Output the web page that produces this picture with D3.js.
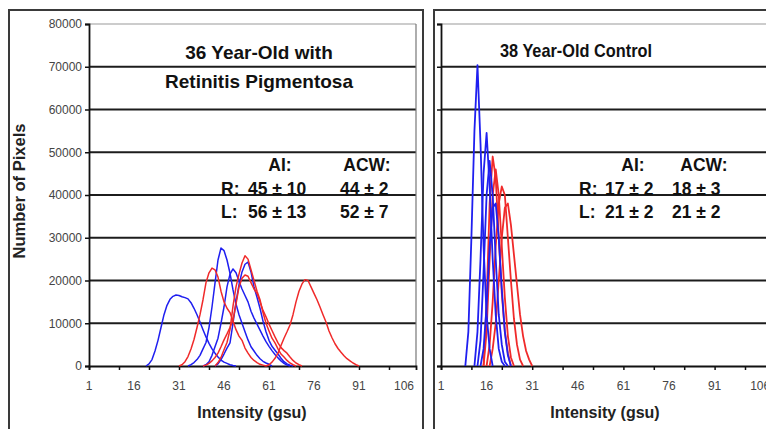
<!DOCTYPE html>
<html><head><meta charset="utf-8">
<script src="https://cdn.jsdelivr.net/npm/d3@7/dist/d3.min.js"></script>
<style>
body{margin:0;background:#fff}
svg{display:block}
text{font-family:Arial,"Liberation Sans",sans-serif}
</style>
</head><body>
<svg id="chart" width="766" height="429"></svg>
<script>
// ---------- data ----------
const yTickValues = [0,10000,20000,30000,40000,50000,60000,70000,80000];
const xTickLabels = [1,16,31,46,61,76,91,106];
const xTickMarks  = [1,11,21,31,41,51,61,71,81,91,101];

// Left panel: 36 Year-Old with Retinitis Pigmentosa (blue = R, red = L)
const rpBlueStart = [20,34,39,43];
const rpBlue1 = [0,500,1500,3500,6000,9000,12000,14200,15600,16300,16600,16500,16200,16000,15700,14800,13500,12000,10300,8500,6800,5300,4000,3000,2100,1400,900,600,300,100,0];
const rpBlue2 = [0,300,800,1500,2500,4000,5500,9000,13800,19400,24800,27600,27000,24800,21700,17800,14500,12000,10000,8000,6100,4500,3500,2500,1700,1100,700,400,0];
const rpBlue3 = [0,300,1000,2500,4500,6500,10000,13800,18500,21500,22700,21800,19800,18000,16500,15000,12800,11200,9800,8400,7000,5700,4600,3600,2700,1900,1200,600,200,0];
const rpBlue4 = [0,500,1500,2800,4200,5400,10000,15000,19000,22000,23800,24300,22000,18500,16100,13500,10500,8000,6000,4600,3700,2800,1800,1000,500,200,0];
const rpRedStart = [31,43,39,60];
const rpRed1 = [0,300,1000,2200,4000,6200,9000,12000,15500,19500,21800,22900,22500,20800,17500,15000,13500,12500,10500,8500,7000,6000,4200,3000,2000,1300,800,400,200,0];
const rpRed2 = [0,800,2000,3800,5500,8500,14000,18500,21500,24100,25800,25000,22500,20000,17500,15500,12500,10000,8200,6500,5400,4000,2800,2100,1300,700,300,0];
const rpRed3 = [0,200,600,1200,2000,3000,4500,6100,7500,9000,10800,14500,18500,20500,21300,21000,19500,18000,17000,15000,13000,11500,9800,8300,6800,5400,4300,3600,3000,2100,1300,700,300,0];
const rpRed4 = [0,300,900,1800,3000,4800,6500,8000,9600,12000,15000,17500,19200,20200,20000,18500,17000,15500,13800,12000,10300,8200,6600,5200,4100,3200,2400,1700,1200,700,300,0];

// Right panel: 38 Year-Old Control
const ctBlueStart = [9,12,13,14];
const ctBlue1 = [0,8000,30000,55000,70400,52000,28000,12000,4000,0];
const ctBlue2 = [0,8000,25000,45000,54500,42000,25000,12000,4000,1000,0];
const ctBlue3 = [0,6000,22000,40000,48000,40000,25000,12000,5000,1000,0];
const ctBlue4 = [0,4000,14000,28000,37000,38000,30000,18000,8000,2500,0];
const ctRedStart = [15,16,15,17];
const ctRed1 = [0,15000,38000,49000,44000,30000,17000,8000,3000,0];
const ctRed2 = [0,5000,15000,28000,38000,42000,40000,30000,20000,11000,5000,1500,0];
const ctRed3 = [0,8000,25000,40000,46000,40000,28000,16000,7000,2000,0];
const ctRed4 = [0,4000,10000,20000,30000,37000,38000,33000,26000,19000,12000,7000,3500,1500,0];

const statsHeader = ["AI:","ACW:"];
const rpStats = [["R:","45 ± 10","44 ± 2"],["L:","56 ± 13","52 ± 7"]];
const ctStats = [["R:","17 ± 2","18 ± 3"],["L:","21 ± 2","21 ± 2"]];

// ---------- drawing ----------
const svg = d3.select("#chart");
const BLUE = "#1f1ff0", RED = "#f02a2a";

function toPoints(start, vals){ return vals.map((v,i)=>({c:start+i, v})); }

function drawPanel(cfg){
  const g = svg.append("g");
  g.append("rect").attr("x",cfg.box[0]).attr("y",cfg.box[1]).attr("width",cfg.box[2]).attr("height",cfg.box[3])
    .attr("fill","none").attr("stroke","#3a3a3a").attr("stroke-width",2);

  const x = d3.scaleLinear().domain([1, cfg.xEnd]).range([cfg.x0, cfg.x1]);
  const y = d3.scaleLinear().domain([0, 80000]).range([366, 24]);

  g.append("g").selectAll("line").data(yTickValues.filter(d=>d>0)).join("line")
    .attr("x1",cfg.x0).attr("x2",cfg.x1).attr("y1",d=>y(d)).attr("y2",d=>y(d))
    .attr("stroke",d=>d===80000?"#9a9a9a":"#1c1c1c").attr("stroke-width",d=>d===80000?1.2:1.8);
  if (cfg.rightEdge) g.append("line").attr("x1",cfg.x1).attr("x2",cfg.x1).attr("y1",y(80000)).attr("y2",y(0))
    .attr("stroke","#777").attr("stroke-width",1.2);

  const yAxis = d3.axisLeft(y).tickValues(yTickValues).tickSize(4).tickFormat(cfg.yLabels ? d3.format("d") : "");
  const ya = g.append("g").attr("transform",`translate(${cfg.x0},0)`).call(yAxis);
  ya.select(".domain").attr("stroke","#111").attr("stroke-width",1.8);
  ya.selectAll(".tick line").attr("stroke","#111").attr("stroke-width",1.5);
  ya.selectAll(".tick text").attr("font-size",12).attr("fill","#444").attr("x",-7).attr("font-family","Arial, 'Liberation Sans', sans-serif");

  const xa = g.append("g").attr("transform","translate(0,366)")
    .call(d3.axisBottom(x).tickValues(xTickMarks).tickSize(4).tickFormat(""));
  xa.select(".domain").attr("stroke","#111").attr("stroke-width",1.8);
  xa.selectAll(".tick line").attr("stroke","#111").attr("stroke-width",1.5);
  g.append("g").selectAll("text").data(xTickLabels).join("text")
    .attr("x",d=>x(d)).attr("y",390).attr("text-anchor","middle")
    .attr("font-size",12).attr("fill","#444").text(d=>d);

  const line = d3.line().x(d=>x(d.c)).y(d=>y(d.v));
  cfg.series.forEach(s=>{
    g.append("path").datum(toPoints(s.start,s.vals)).attr("d",line)
      .attr("fill","none").attr("stroke",s.color).attr("stroke-width",cfg.lineW).attr("stroke-linejoin","round");
  });

  cfg.title.forEach((t,i)=>{
    const tt = g.append("text").attr("x",cfg.titleX).attr("y",cfg.titleY+i*29).attr("text-anchor","middle")
      .attr("font-size",cfg.titleSize).attr("font-weight","bold").attr("fill","#111").text(t);
    if (cfg.titleLen) tt.attr("textLength",cfg.titleLen).attr("lengthAdjust","spacingAndGlyphs");
  });

  const st = cfg.stats;
  [0,1].forEach(k=>{
    g.append("text").attr("x",st.hx[k]).attr("y",171).attr("text-anchor","middle").attr("font-size",17.5)
      .attr("font-weight","bold").attr("fill","#111").text(statsHeader[k]);
  });
  st.rows.forEach((r,i)=>{
    const yy = 195 + i*23;
    r.forEach((t,j)=>{
      g.append("text").attr("x",st.cx[j]).attr("y",yy).attr("text-anchor","start")
        .attr("font-size",17.5).attr("font-weight","bold").attr("fill","#111").text(t);
    });
  });

  g.append("text").attr("x",cfg.axTitleX).attr("y",418).attr("text-anchor","middle")
    .attr("font-size",16).attr("font-weight","bold").attr("fill","#222").text("Intensity (gsu)");
}

drawPanel({
  box:[9,10,414,440], x0:89, x1:416, xEnd:110, yLabels:true, rightEdge:true, lineW:1.5,
  title:["36 Year-Old with","Retinitis Pigmentosa"], titleX:259, titleY:59, titleSize:19,
  stats:{hx:[280,367], cx:[221,248,340], rows:rpStats},
  axTitleX:252,
  series:[
    {start:rpBlueStart[0], vals:rpBlue1, color:BLUE},
    {start:rpBlueStart[1], vals:rpBlue2, color:BLUE},
    {start:rpBlueStart[2], vals:rpBlue3, color:BLUE},
    {start:rpBlueStart[3], vals:rpBlue4, color:BLUE},
    {start:rpRedStart[0], vals:rpRed1, color:RED},
    {start:rpRedStart[1], vals:rpRed2, color:RED},
    {start:rpRedStart[2], vals:rpRed3, color:RED},
    {start:rpRedStart[3], vals:rpRed4, color:RED}
  ]
});

drawPanel({
  box:[434,10,360,440], x0:441, x1:775, xEnd:1+(775-441)/3.04, yLabels:false, rightEdge:false, lineW:1.8,
  title:["38 Year-Old Control"], titleX:576, titleY:57, titleSize:19, titleLen:152,
  stats:{hx:[633,704], cx:[579,605,672], rows:ctStats},
  axTitleX:605,
  series:[
    {start:ctRedStart[0], vals:ctRed1, color:RED},
    {start:ctRedStart[1], vals:ctRed2, color:RED},
    {start:ctRedStart[2], vals:ctRed3, color:RED},
    {start:ctRedStart[3], vals:ctRed4, color:RED},
    {start:ctBlueStart[0], vals:ctBlue1, color:BLUE},
    {start:ctBlueStart[1], vals:ctBlue2, color:BLUE},
    {start:ctBlueStart[2], vals:ctBlue3, color:BLUE},
    {start:ctBlueStart[3], vals:ctBlue4, color:BLUE}
  ]
});

svg.append("text").attr("transform","translate(25,191) rotate(-90)").attr("text-anchor","middle")
  .attr("font-size",16.5).attr("font-weight","bold").attr("fill","#222").text("Number of Pixels");
</script>
</body></html>
